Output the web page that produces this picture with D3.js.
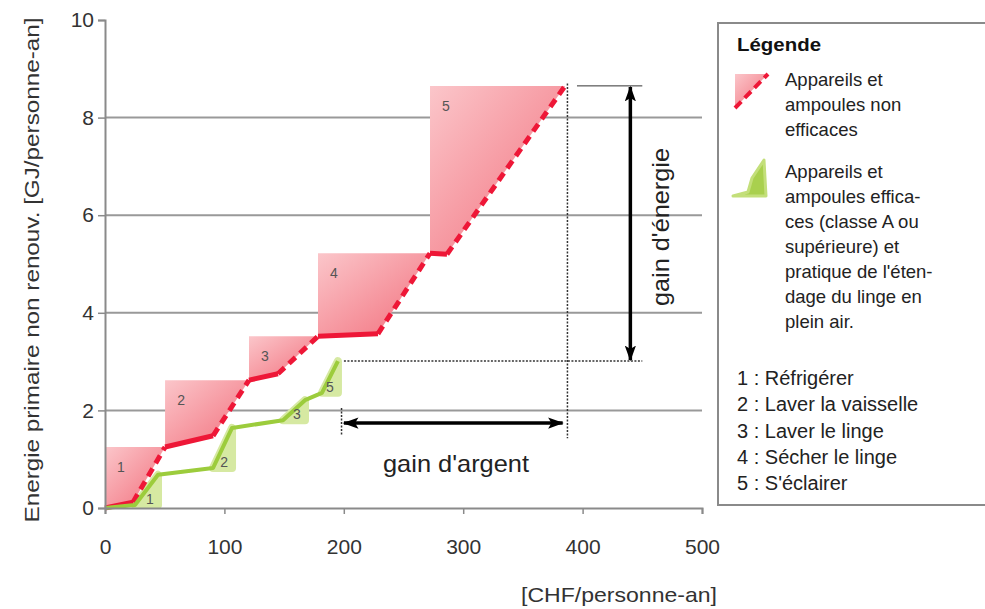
<!DOCTYPE html>
<html>
<head>
<meta charset="utf-8">
<script src="https://cdn.jsdelivr.net/npm/d3@7"></script>
<style>
  html, body { margin: 0; padding: 0; background: #fff; }
  svg { display: block; font-family: "Liberation Sans", Arial, sans-serif; }
</style>
</head>
<body>
<svg id="chart" width="985" height="609"></svg>
<script>
// ---- data ----
const xTicks = [0, 100, 200, 300, 400, 500];
const yTicks = [0, 2, 4, 6, 8, 10];

// cumulative cost [CHF/personne-an] and energy [GJ/personne-an], non-efficient appliances
const redX = [0, 23.5, 50.3, 90.5, 120.6, 144.9, 178.4, 228.6, 272.2, 286.4, 385.3];
const redY = [0, 0.12, 1.25, 1.48, 2.62, 2.75, 3.52, 3.57, 5.22, 5.20, 8.65];
const redLabels = ["1", "2", "3", "4", "5"];

// efficient appliances
const greenX = [0, 25.1, 44.4, 90.5, 106.4, 149.1, 167.5, 181.7, 195.1];
const greenY = [0, 0.06, 0.68, 0.82, 1.64, 1.80, 2.21, 2.36, 3.01];
const greenLabels = ["1", "2", "3", "5"];

const legendRed = ["Appareils et", "ampoules non", "efficaces"];
const legendGreen = ["Appareils et", "ampoules effica-", "ces (classe A ou", "supérieure) et",
                     "pratique de l'éten-", "dage du linge en", "plein air."];
const legendItems = ["1 : Réfrigérer", "2 : Laver la vaisselle", "3 : Laver le linge",
                     "4 : Sécher le linge", "5 : S'éclairer"];

// ---- drawing ----
const svg = d3.select("#chart");
const x = d3.scaleLinear().domain([0, 500]).range([105, 702]);
const y = d3.scaleLinear().domain([0, 10]).range([508, 20]);

const RED = "#ee1737";
const GREEN = "#9ccc3c";

const defs = svg.append("defs");
const grad = defs.append("linearGradient").attr("id", "pink")
  .attr("x1", 0).attr("y1", 0).attr("x2", 1).attr("y2", 1);
grad.append("stop").attr("offset", "0%").attr("stop-color", "#fbc6ca");
grad.append("stop").attr("offset", "100%").attr("stop-color", "#f26f7c");

// gridlines
svg.append("g").selectAll("line").data(yTicks.filter(v => v > 0 && v < 10)).join("line")
  .attr("x1", x(0)).attr("x2", x(500))
  .attr("y1", d => y(d)).attr("y2", d => y(d))
  .attr("stroke", "#999").attr("stroke-width", 2);

const redPts = redX.map((v, i) => [v, redY[i]]);
const greenPts = greenX.map((v, i) => [v, greenY[i]]);

// red regions
redLabels.forEach((lab, k) => {
  const pts = redPts.slice(2 * k, 2 * k + 3);
  const s = pts[0], e = pts[pts.length - 1];
  const poly = pts.concat([[s[0], e[1]]]);
  svg.append("polygon")
    .attr("points", poly.map(p => [x(p[0]), y(p[1])].join(",")).join(" "))
    .attr("fill", "url(#pink)");
  svg.append("text")
    .attr("x", x(s[0]) + 16).attr("y", y(e[1]) + 21)
    .attr("text-anchor", "middle").attr("dominant-baseline", "middle")
    .attr("font-size", 14).attr("fill", "#555").text(lab);
});

// green regions
greenLabels.forEach((lab, k) => {
  const s = greenPts[2 * k + 1], e = greenPts[2 * k + 2];
  const poly = [s, e, [e[0], s[1]]];
  svg.append("polygon")
    .attr("points", poly.map(p => [x(p[0]), y(p[1])].join(",")).join(" "))
    .attr("fill", "#d6e9a2").attr("stroke", "#d6e9a2").attr("stroke-width", 8)
    .attr("stroke-linejoin", "round");
});

// red line: alternating solid / dashed segments
for (let i = 0; i < redPts.length - 1; i++) {
  svg.append("line")
    .attr("x1", x(redPts[i][0])).attr("y1", y(redPts[i][1]))
    .attr("x2", x(redPts[i + 1][0])).attr("y2", y(redPts[i + 1][1]))
    .attr("stroke", RED).attr("stroke-width", 5)
    .attr("stroke-dasharray", i % 2 === 1 ? "9,6" : null);
}

// green line
svg.append("path")
  .attr("d", d3.line().x(d => x(d[0])).y(d => y(d[1]))(greenPts))
  .attr("fill", "none").attr("stroke", GREEN).attr("stroke-width", 4)
  .attr("stroke-linejoin", "round");

greenLabels.forEach((lab, k) => {
  const s = greenPts[2 * k + 1], e = greenPts[2 * k + 2];
  svg.append("text")
    .attr("x", x(e[0]) - 8).attr("y", y(s[1]) - 5)
    .attr("text-anchor", "middle").attr("dominant-baseline", "middle")
    .attr("font-size", 14).attr("fill", "#555").text(lab);
});

// axes
const gx = svg.append("g").attr("transform", `translate(0,${y(0)})`)
  .call(d3.axisBottom(x).tickValues(xTicks).tickSize(6).tickPadding(25).tickFormat(d3.format("d")));
const gy = svg.append("g").attr("transform", `translate(${x(0)},0)`)
  .call(d3.axisLeft(y).tickValues(yTicks).tickSize(7).tickPadding(4).tickFormat(d3.format("d")));
[gx, gy].forEach(g => {
  g.select(".domain").attr("stroke", "#8a8a8a").attr("stroke-width", 2);
  g.selectAll(".tick line").attr("stroke", "#8a8a8a").attr("stroke-width", 1.5);
  g.selectAll(".tick text").attr("font-size", 21).attr("fill", "#333")
    .attr("font-family", "'Liberation Sans', Arial, sans-serif");
});

svg.append("text")
  .attr("transform", `translate(33,270) rotate(-90)`)
  .attr("text-anchor", "middle").attr("dominant-baseline", "middle")
  .attr("font-size", 21).attr("fill", "#333")
  .attr("textLength", 505).attr("lengthAdjust", "spacingAndGlyphs")
  .text("Energie primaire non renouv. [GJ/personne-an]");
svg.append("text")
  .attr("x", 619).attr("y", 602).attr("text-anchor", "middle")
  .attr("font-size", 21).attr("fill", "#333")
  .attr("textLength", 196).attr("lengthAdjust", "spacingAndGlyphs")
  .text("[CHF/personne-an]");

// ---- annotations ----
const redEnd = redPts[redPts.length - 1];
const greenEnd = greenPts[greenPts.length - 1];
const arrowX = 440, arrowY = 1.74;

defs.append("marker").attr("id", "arr")
  .attr("viewBox", "0 0 14 10").attr("refX", 13).attr("refY", 5)
  .attr("markerWidth", 4.5).attr("markerHeight", 3.2).attr("orient", "auto-start-reverse")
  .attr("markerUnits", "strokeWidth")
  .append("path").attr("d", "M0,0 L14,5 L0,10 L3,5 z").attr("fill", "#000");

const dotted = (x1, y1, x2, y2) => svg.append("line")
  .attr("x1", x(x1)).attr("y1", y(y1)).attr("x2", x(x2)).attr("y2", y(y2))
  .attr("stroke", "#333").attr("stroke-width", 1.5).attr("stroke-dasharray", "2,1.5");

dotted(greenEnd[0] + 5, greenEnd[1], arrowX + 10, greenEnd[1]);
dotted(redEnd[0] + 2, redEnd[1] + 0.05, redEnd[0] + 2, 1.43);
dotted(greenEnd[0] + 3, 2.05, greenEnd[0] + 3, 1.5);
svg.append("line")
  .attr("x1", x(redEnd[0] + 10)).attr("x2", x(arrowX + 10))
  .attr("y1", y(redEnd[1])).attr("y2", y(redEnd[1]))
  .attr("stroke", "#333").attr("stroke-width", 1);

svg.append("line")
  .attr("x1", x(arrowX)).attr("x2", x(arrowX))
  .attr("y1", y(redEnd[1]) + 1).attr("y2", y(greenEnd[1]) - 1)
  .attr("stroke", "#000").attr("stroke-width", 3.5)
  .attr("marker-start", "url(#arr)").attr("marker-end", "url(#arr)");
svg.append("line")
  .attr("x1", x(greenEnd[0] + 5)).attr("x2", x(redEnd[0] - 2))
  .attr("y1", y(arrowY)).attr("y2", y(arrowY))
  .attr("stroke", "#000").attr("stroke-width", 3.5)
  .attr("marker-start", "url(#arr)").attr("marker-end", "url(#arr)");

svg.append("text").attr("x", 456).attr("y", 466)
  .attr("text-anchor", "middle").attr("dominant-baseline", "middle")
  .attr("font-size", 24).attr("fill", "#222")
  .attr("textLength", 146).attr("lengthAdjust", "spacingAndGlyphs")
  .text("gain d'argent");
svg.append("text")
  .attr("transform", `translate(663,227) rotate(-90)`)
  .attr("text-anchor", "middle").attr("dominant-baseline", "middle")
  .attr("font-size", 24).attr("fill", "#222")
  .attr("textLength", 158).attr("lengthAdjust", "spacingAndGlyphs")
  .text("gain d'énergie");

// ---- legend ----
const lg = svg.append("g");
lg.append("rect").attr("x", 718).attr("y", 23).attr("width", 280).attr("height", 482)
  .attr("fill", "#fff").attr("stroke", "#8a8a8a").attr("stroke-width", 2);
lg.append("text").attr("x", 737).attr("y", 51).attr("font-size", 19)
  .attr("font-weight", "bold").attr("fill", "#111")
  .attr("textLength", 84).attr("lengthAdjust", "spacingAndGlyphs").text("Légende");

lg.append("polygon").attr("points", "735,74 768,74 735,108").attr("fill", "url(#pink)");
lg.append("line").attr("x1", 735).attr("y1", 108).attr("x2", 768).attr("y2", 74)
  .attr("stroke", RED).attr("stroke-width", 4).attr("stroke-dasharray", "9,5");
lg.append("polygon").attr("points", "733,196 748,192 752,178 764,160 766,196")
  .attr("fill", "#a9d04e").attr("stroke", "#c3df7a").attr("stroke-width", 3)
  .attr("stroke-linejoin", "round");

legendRed.forEach((t, i) => lg.append("text").attr("x", 785).attr("y", 86 + i * 25)
  .attr("font-size", 18.5).attr("fill", "#222").text(t));
legendGreen.forEach((t, i) => lg.append("text").attr("x", 785).attr("y", 178 + i * 25)
  .attr("font-size", 18.5).attr("fill", "#222").text(t));
legendItems.forEach((t, i) => lg.append("text").attr("x", 737).attr("y", 385 + i * 26.3)
  .attr("font-size", 20).attr("fill", "#222").text(t));
</script>
</body>
</html>
